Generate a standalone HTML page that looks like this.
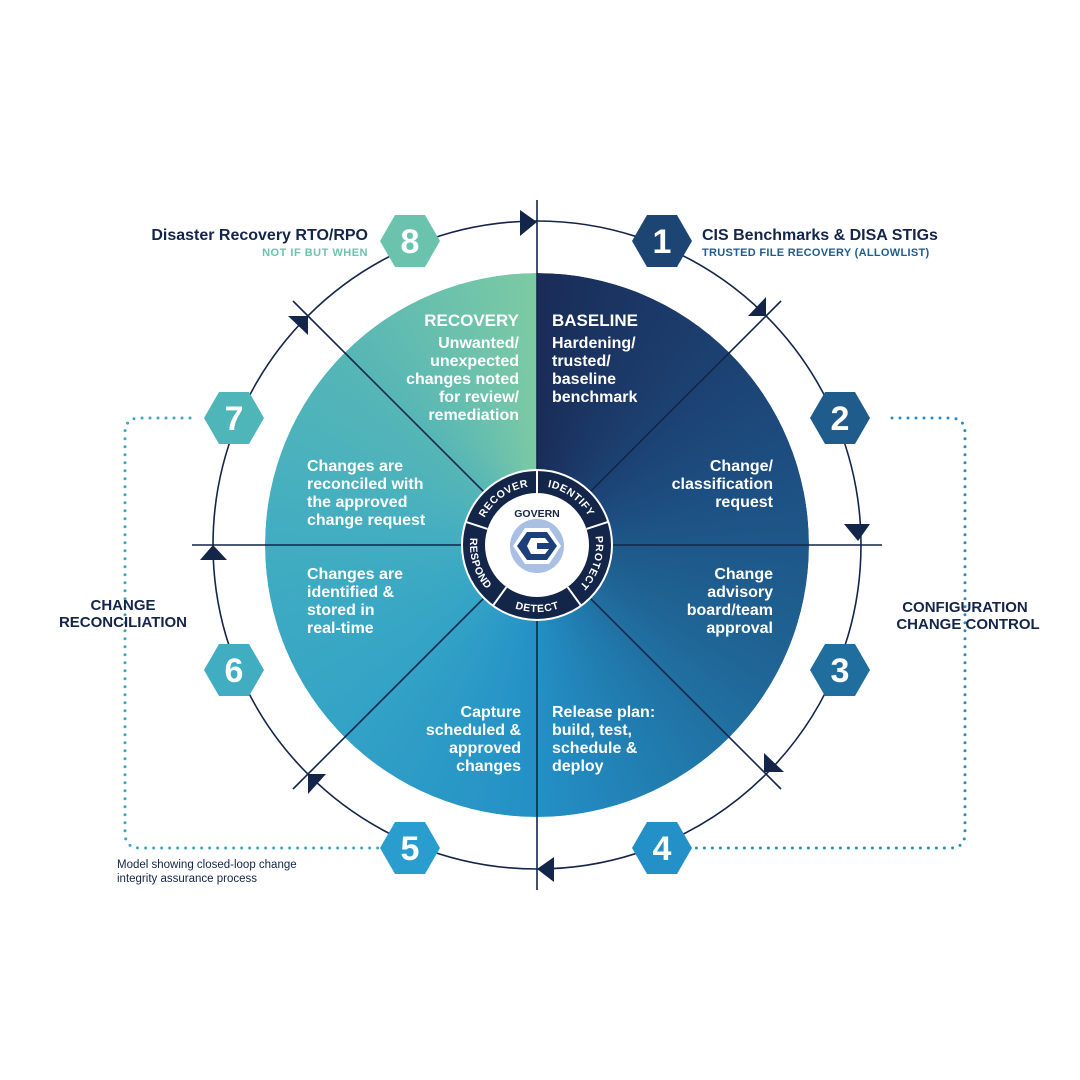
<!DOCTYPE html>
<html><head><meta charset="utf-8"><style>
body{margin:0;background:#fff}
svg{display:block}
text{font-family:"Liberation Sans",sans-serif}
.w{fill:#fff;font-size:16px;font-weight:bold}
</style></head><body>
<svg width="1080" height="1080" viewBox="0 0 1080 1080" xmlns="http://www.w3.org/2000/svg">
<defs>
<clipPath id="disc"><circle cx="537" cy="545" r="272"/></clipPath>
<path id="cw" d="M 537 486 A 59 59 0 1 1 536.99 486"/>
<path id="ccw" d="M 537 478 A 67 67 0 1 0 537.01 478"/>
</defs>
<foreignObject x="265" y="273" width="544" height="544" clip-path="url(#disc)">
<div xmlns="http://www.w3.org/1999/xhtml" style="width:544px;height:544px;border-radius:50%;background:conic-gradient(from 0deg,#1a2c58 0deg,#1d4d80 70deg,#1f6696 120deg,#2390c6 180deg,#34a4c6 230deg,#45afc0 280deg,#56b6b6 315deg,#7ccaa4 359deg)"></div>
</foreignObject>
<circle cx="537" cy="545" r="324" fill="none" stroke="#14254a" stroke-width="1.6"/>
<g stroke="#14254a" stroke-width="1.6">
<line x1="537" y1="200" x2="537" y2="890"/>
<line x1="192" y1="545" x2="882" y2="545"/>
<line x1="293" y1="301" x2="781" y2="789"/>
<line x1="781" y1="301" x2="293" y2="789"/>
</g>
<g fill="#14254a">
<polygon points="537,222 520,210 520,236"/>
<polygon points="766,316 748,316 766,297"/>
<polygon points="858,541 844,524 870,524"/>
<polygon points="764,772 764,753 784,772"/>
<polygon points="537,869 554,857 554,882"/>
<polygon points="308,774 326,774 308,794"/>
<polygon points="213,545 200,560 227,560"/>
<polygon points="308,316 308,335 288,316"/>
</g>
<g fill="none" stroke="#3fa8c0" stroke-width="3" stroke-dasharray="0 8" stroke-linecap="round">
<path d="M 190 418 L 140 418 Q 125 418 125 433 L 125 833 Q 125 848 140 848 L 380 848"/>
</g>
<g fill="none" stroke="#2a8cc0" stroke-width="3" stroke-dasharray="0 8" stroke-linecap="round">
<path d="M 892 418 L 950 418 Q 965 418 965 433 L 965 833 Q 965 848 950 848 L 695 848"/>
</g>
<circle cx="537" cy="545" r="75" fill="#14254a" stroke="#fff" stroke-width="2"/>
<circle cx="537" cy="545" r="52" fill="#fff"/>
<g stroke="#fff" stroke-width="2">
<line x1="537" y1="470" x2="537" y2="493"/>
<line x1="586.5" y1="528.9" x2="608.3" y2="521.8"/>
<line x1="567.6" y1="587.1" x2="581.1" y2="605.7"/>
<line x1="506.4" y1="587.1" x2="492.9" y2="605.7"/>
<line x1="487.5" y1="528.9" x2="465.7" y2="521.8"/>
</g>
<g fill="#fff" font-size="10.5" font-weight="bold" letter-spacing="0.6" text-anchor="middle">
<text><textPath href="#cw" startOffset="37">IDENTIFY</textPath></text>
<text><textPath href="#cw" startOffset="111">PROTECT</textPath></text>
<text><textPath href="#cw" startOffset="333.6">RECOVER</textPath></text>
<text><textPath href="#ccw" startOffset="210.5">DETECT</textPath></text>
<text><textPath href="#ccw" startOffset="126">RESPOND</textPath></text>
</g>
<text x="537" y="517" text-anchor="middle" font-size="10.5" font-weight="bold" fill="#14254a">GOVERN</text>
<circle cx="537" cy="546" r="27" fill="#a9bfe4"/>
<polygon points="525,528 549,528 561,546 549,564 525,564 513,546" fill="#fff"/>
<polygon points="527,532 547,532 557,546 547,560 527,560 517,546" fill="#1c3f7a"/>
<polygon points="531,538 545,538 549,543 537,543 537,549 549,549 545,554 531,554 527,546" fill="#fff"/>
<g class="w">
<text x="519" y="326" text-anchor="end" font-size="17">RECOVERY</text>
<text x="519" y="348" text-anchor="end">Unwanted/</text>
<text x="519" y="366" text-anchor="end">unexpected</text>
<text x="519" y="384" text-anchor="end">changes noted</text>
<text x="519" y="402" text-anchor="end">for review/</text>
<text x="519" y="420" text-anchor="end">remediation</text>
<text x="552" y="326" font-size="17">BASELINE</text>
<text x="552" y="348">Hardening/</text>
<text x="552" y="366">trusted/</text>
<text x="552" y="384">baseline</text>
<text x="552" y="402">benchmark</text>
<text x="773" y="471" text-anchor="end">Change/</text>
<text x="773" y="489" text-anchor="end">classification</text>
<text x="773" y="507" text-anchor="end">request</text>
<text x="773" y="579" text-anchor="end">Change</text>
<text x="773" y="597" text-anchor="end">advisory</text>
<text x="773" y="615" text-anchor="end">board/team</text>
<text x="773" y="633" text-anchor="end">approval</text>
<text x="552" y="717">Release plan:</text>
<text x="552" y="735">build, test,</text>
<text x="552" y="753">schedule &amp;</text>
<text x="552" y="771">deploy</text>
<text x="521" y="717" text-anchor="end">Capture</text>
<text x="521" y="735" text-anchor="end">scheduled &amp;</text>
<text x="521" y="753" text-anchor="end">approved</text>
<text x="521" y="771" text-anchor="end">changes</text>
<text x="307" y="579">Changes are</text>
<text x="307" y="597">identified &amp;</text>
<text x="307" y="615">stored in</text>
<text x="307" y="633">real-time</text>
<text x="307" y="471">Changes are</text>
<text x="307" y="489">reconciled with</text>
<text x="307" y="507">the approved</text>
<text x="307" y="525">change request</text>
</g>
<g font-size="34" font-weight="bold" fill="#fff" text-anchor="middle">
<g transform="translate(410,241)"><polygon points="-30,0 -15,-26 15,-26 30,0 15,26 -15,26" fill="#6cc3ad"/><text y="12">8</text></g>
<g transform="translate(662,241)"><polygon points="-30,0 -15,-26 15,-26 30,0 15,26 -15,26" fill="#1d4574"/><text y="12">1</text></g>
<g transform="translate(840,418)"><polygon points="-30,0 -15,-26 15,-26 30,0 15,26 -15,26" fill="#1f5c8c"/><text y="12">2</text></g>
<g transform="translate(840,670)"><polygon points="-30,0 -15,-26 15,-26 30,0 15,26 -15,26" fill="#206e9e"/><text y="12">3</text></g>
<g transform="translate(662,848)"><polygon points="-30,0 -15,-26 15,-26 30,0 15,26 -15,26" fill="#2390c8"/><text y="12">4</text></g>
<g transform="translate(410,848)"><polygon points="-30,0 -15,-26 15,-26 30,0 15,26 -15,26" fill="#2a9dcf"/><text y="12">5</text></g>
<g transform="translate(234,670)"><polygon points="-30,0 -15,-26 15,-26 30,0 15,26 -15,26" fill="#40adc0"/><text y="12">6</text></g>
<g transform="translate(234,418)"><polygon points="-30,0 -15,-26 15,-26 30,0 15,26 -15,26" fill="#4eb6b8"/><text y="12">7</text></g>
</g>
<text x="368" y="240" text-anchor="end" font-size="16" font-weight="bold" fill="#14254a">Disaster Recovery RTO/RPO</text>
<text x="368" y="256" text-anchor="end" font-size="11" font-weight="bold" fill="#6cc3ad" letter-spacing="0.5">NOT IF BUT WHEN</text>
<text x="702" y="240" font-size="16" font-weight="bold" fill="#14254a">CIS Benchmarks &amp; DISA STIGs</text>
<text x="702" y="256" font-size="11" font-weight="bold" fill="#1f5c8c" letter-spacing="0.3">TRUSTED FILE RECOVERY (ALLOWLIST)</text>
<text x="123" y="610" text-anchor="middle" font-size="15" font-weight="bold" fill="#14254a">CHANGE</text>
<text x="123" y="627" text-anchor="middle" font-size="15" font-weight="bold" fill="#14254a">RECONCILIATION</text>
<text x="965" y="612" text-anchor="middle" font-size="15" font-weight="bold" fill="#14254a">CONFIGURATION</text>
<text x="968" y="629" text-anchor="middle" font-size="15" font-weight="bold" fill="#14254a">CHANGE CONTROL</text>
<text x="117" y="868" font-size="11.5" fill="#14254a">Model showing closed-loop change</text>
<text x="117" y="882" font-size="11.5" fill="#14254a">integrity assurance process</text>
</svg>
</body></html>
